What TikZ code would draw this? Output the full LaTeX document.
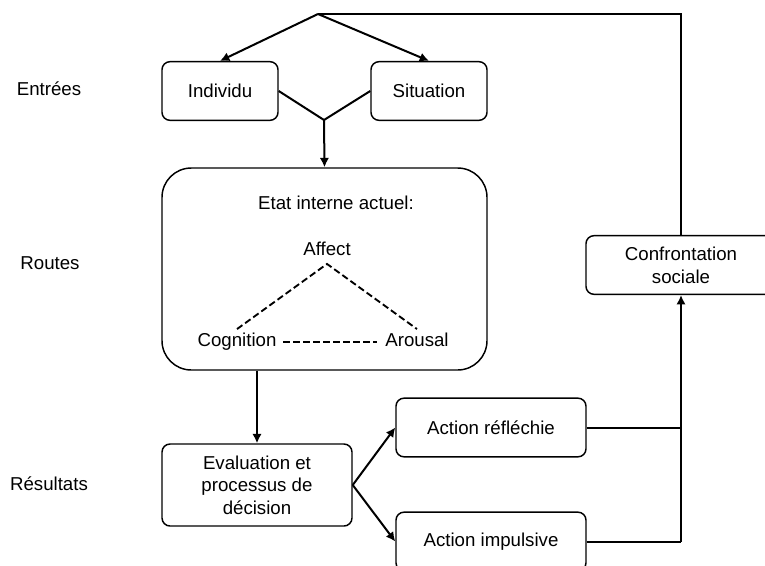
\documentclass[tikz,border=0pt]{standalone}
\usepackage{fontspec}
\setmainfont{Liberation Sans}
\usetikzlibrary{arrows.meta}
\begin{document}
\begin{tikzpicture}[x=0.75pt, y=-0.75pt, font=\fontsize{14}{17}\selectfont,
		box/.style={draw, line width=1.1pt, rounded corners=6pt, minimum width=142.5pt, minimum height=44pt, align=center, inner sep=2pt},
		lbl/.style={inner sep=3pt, text height=10pt, text depth=3pt},
		link/.style={line width=1.5pt},
		arr/.style={link, -{Latex[length=7pt, width=7pt]}},
		dsh/.style={line width=1.4pt, dash pattern=on 5pt off 2.5pt}]
		\useasboundingbox (0,0) rectangle (765,565);
		\node[lbl] (entrees) at (49,91) {Entrées};
		\node[lbl] (routes) at (50,265) {Routes};
		\node[lbl] (resultats) at (49,486) {Résultats};
		\node[box, minimum width=87pt] (indiv) at (220,91) {Individu};
		\node[box, minimum width=87pt] (sit) at (429,91) {Situation};
		\node[box, rounded corners=22pt, minimum width=243.75pt, minimum height=151.5pt] (etat) at (324.5,269) {};
		\node[lbl] (titre) at (336,205) {Etat interne actuel:};
		\node[lbl] (affect) at (327,251) {Affect};
		\node[lbl] (cognition) at (237,342) {Cognition};
		\node[lbl] (arousal) at (417,342) {Arousal};
		\node[box, minimum height=61.5pt] (eval) at (257,485) {Evaluation et\\processus de\\décision};
		\node[box] (refl) at (491,427.5) {Action réfléchie};
		\node[box] (impul) at (491,541.5) {Action impulsive};
		\node[box] (conf) at (681,265) {Confrontation\\sociale};
		\coordinate (top) at (318,14);
		\coordinate (join) at (324,120);
		\draw[link] (conf.north) |- (top);
		\draw[arr] (top) -- (indiv.north);
		\draw[arr] (top) -- (sit.north);
		\draw[link] (indiv.east) -- (join) -- (sit.west);
		\draw[arr] (join) -- (etat.north);
		\draw[dsh] (cognition.north) -- (affect.south) -- (arousal.north);
		\draw[dsh, shorten <=2pt, shorten >=3pt] (cognition.east) -- (arousal.west);
		\draw[arr] (etat.south -| eval.north) -- (eval.north);
		\draw[arr] (eval.east) -- (refl.west);
		\draw[arr] (eval.east) -- (impul.west);
		\draw[link] (refl.east) -- (refl.east -| conf.south);
		\draw[link] (impul.east) -- (impul.east -| conf.south);
		\draw[arr] (impul.east -| conf.south) -- (conf.south);
\end{tikzpicture}
\end{document}
